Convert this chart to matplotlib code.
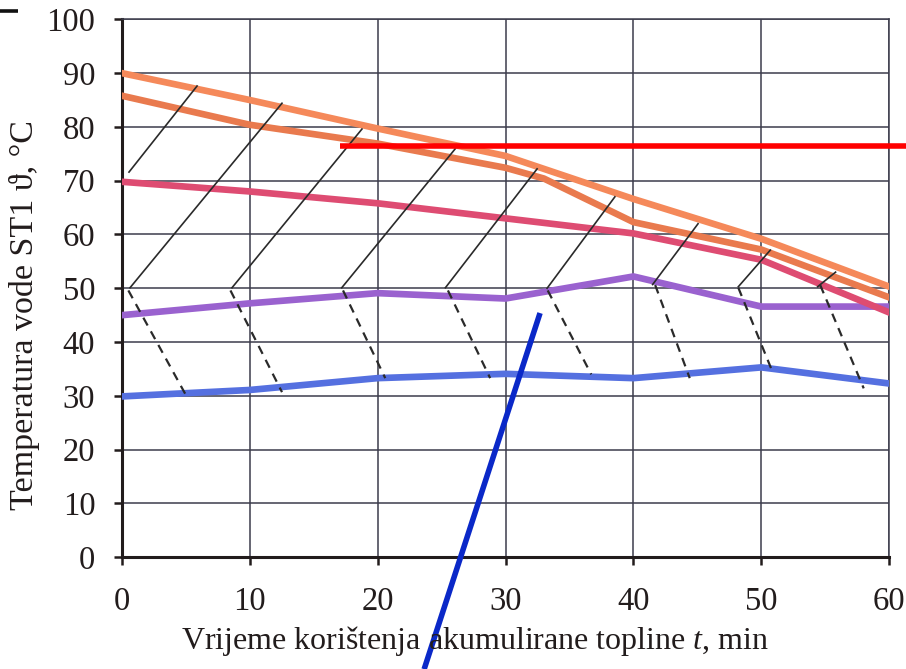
import matplotlib
matplotlib.use("Agg")
import matplotlib.pyplot as plt

# ---------------- data ----------------
x_ticks = [0, 10, 20, 30, 40, 50, 60]
y_ticks = [0, 10, 20, 30, 40, 50, 60, 70, 80, 90, 100]

t_top = [0, 10, 20, 30, 40, 50, 60]
temp_top = [90.0, 85.0, 79.7, 74.6, 66.6, 59.2, 50.3]

t_second = [0, 10, 20, 30, 33, 40, 50, 60]
temp_second = [85.8, 80.4, 76.9, 72.4, 70.4, 62.3, 57.2, 48.3]

t_mid = [0, 10, 20, 30, 40, 50, 60]
temp_mid = [69.8, 68.0, 65.8, 63.0, 60.2, 55.3, 45.5]

t_purple = [0, 10, 20, 30, 40, 50, 60]
temp_purple = [45.0, 47.2, 49.1, 48.1, 52.2, 46.6, 46.6]

t_blue = [0, 10, 20, 30, 40, 50, 60]
temp_blue = [29.9, 31.1, 33.3, 34.1, 33.3, 35.3, 32.3]

# thin solid construction lines: (x0, y0, x1, y1)
solid_x0 = [0.57, 0.65, 8.62, 17.2, 25.3, 33.25, 41.5, 48.2, 54.4]
solid_y0 = [71.6, 50.1, 50.1, 50.1, 50.1, 50.0, 50.7, 50.3, 50.3]
solid_x1 = [5.89, 12.53, 18.78, 26.06, 32.47, 38.55, 45.05, 50.7, 55.8]
solid_y1 = [87.6, 84.4, 79.6, 75.9, 72.2, 67.0, 62.0, 57.1, 53.0]

# dashed construction lines
dash_x0 = [0.52, 8.5, 17.3, 25.5, 33.3, 41.7, 48.2, 54.6]
dash_y0 = [49.6, 49.6, 49.6, 49.6, 49.6, 50.6, 50.1, 50.6]
dash_x1 = [5.1, 12.53, 20.6, 28.8, 36.7, 44.4, 50.9, 58.0]
dash_y1 = [29.8, 30.7, 33.3, 33.3, 34.0, 33.3, 34.3, 31.4]

# overlay annotation strokes
red_x = [17.07, 61.5]
red_y = [76.4, 76.4]
blue_x = [32.7, 23.64]
blue_y = [45.4, -20.8]
mark_x = [-9.6, -8.1]
mark_y = [101.5, 101.5]

# ---------------- style ----------------
plt.rcParams["font.family"] = ["Liberation Serif", "DejaVu Serif"]
plt.rcParams["mathtext.fontset"] = "custom"
plt.rcParams["mathtext.rm"] = "Liberation Serif"
plt.rcParams["mathtext.it"] = "Liberation Serif:italic"

text_col = "#221c1c"
grid_col = "#3c3c4c"

fig = plt.figure(figsize=(9.06, 6.69), dpi=100)
ax = fig.add_axes([0.13433, 0.16697, 0.84724, 0.80419])

ax.set_xlim(0, 60)
ax.set_ylim(0, 100)
ax.set_xticks(x_ticks)
ax.set_yticks(y_ticks)
ax.grid(True, color=grid_col, linewidth=1.1)
ax.set_axisbelow(True)

for s in ["top", "right"]:
    ax.spines[s].set_color(grid_col)
    ax.spines[s].set_linewidth(1.1)
for s in ["left", "bottom"]:
    ax.spines[s].set_color(text_col)
    ax.spines[s].set_linewidth(2.2)

ax.tick_params(axis="both", direction="out", length=6, width=1.8,
               color=text_col, labelsize=23.5, labelcolor=text_col)
ax.tick_params(axis="y", pad=13)
ax.tick_params(axis="x", pad=15)

lw = 4.8
ax.plot(t_blue, temp_blue, color="#5570E0", lw=lw, solid_joinstyle="round", zorder=3)
ax.plot(t_purple, temp_purple, color="#9A62CF", lw=lw, solid_joinstyle="round", zorder=3)
ax.plot(t_mid, temp_mid, color="#DE4C72", lw=lw, solid_joinstyle="round", zorder=3)
ax.plot(t_second, temp_second, color="#E97A4E", lw=lw, solid_joinstyle="round", zorder=3)
ax.plot(t_top, temp_top, color="#F5895A", lw=lw, solid_joinstyle="round", zorder=3)

for x0, y0, x1, y1 in zip(solid_x0, solid_y0, solid_x1, solid_y1):
    ax.plot([x0, x1], [y0, y1], color="#2a2a2a", lw=1.2, zorder=4)
for x0, y0, x1, y1 in zip(dash_x0, dash_y0, dash_x1, dash_y1):
    ax.plot([x0, x1], [y0, y1], color="#2a2a2a", lw=1.6, ls=(0, (4, 3)), zorder=4)

ax.plot(red_x, red_y, color="#FF0000", lw=4.0, clip_on=False, zorder=6,
        solid_capstyle="butt")
ax.plot(blue_x, blue_y, color="#0A28C8", lw=4.0, clip_on=False, zorder=6,
        solid_capstyle="butt")
ax.plot(mark_x, mark_y, color="#111111", lw=2.6, clip_on=False, zorder=6,
        solid_capstyle="butt")

fig.text(25 / 906, 1 - 315 / 669, "Temperatura vode ST1 ϑ, °C", rotation=90,
         ha="center", va="center", fontsize=24.5, color=text_col)
fig.text(0.5 * (183 + 768) / 906, 1 - 641 / 669,
         r"Vrijeme korištenja akumulirane topline $t$, min",
         ha="center", va="center", fontsize=23, color=text_col)

fig.savefig("out.png", dpi=100)
